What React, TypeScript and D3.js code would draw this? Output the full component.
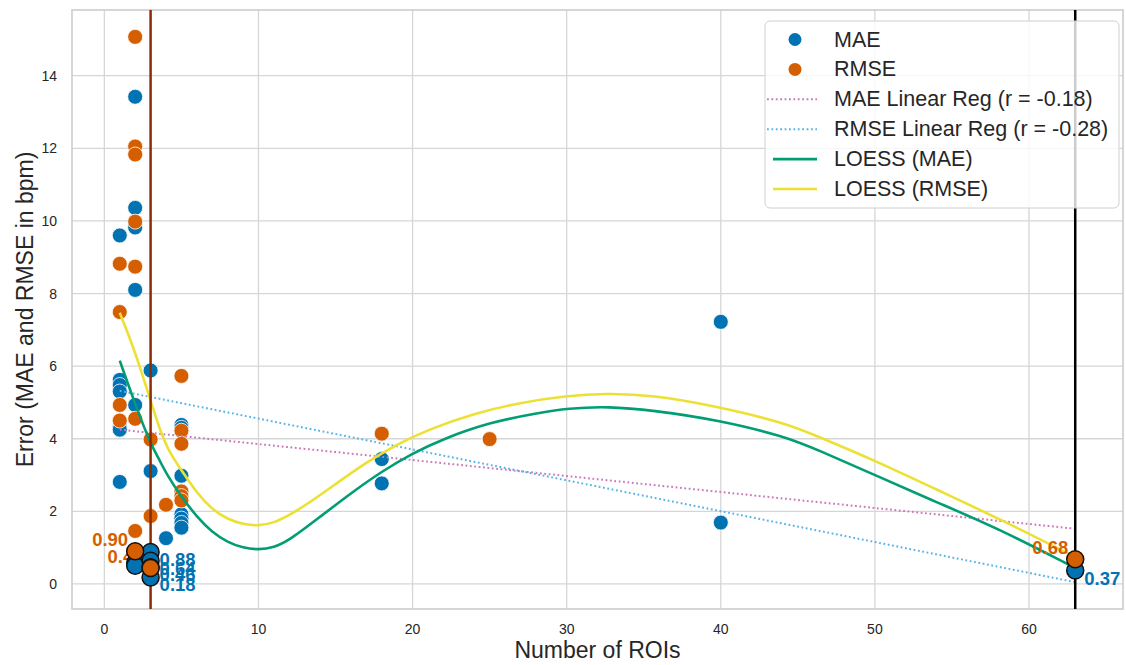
import React from "react";
import * as d3 from "d3";

// scatter values
const maeX = [1, 1, 1, 1, 1, 1, 1, 2, 2, 2, 2, 2, 3, 3, 4, 5, 5, 5, 5, 5, 5, 5, 18, 18, 40, 40];
const maeY = [9.6, 5.62, 5.48, 5.3, 4.32, 4.25, 2.81, 13.42, 10.36, 9.82, 8.1, 4.93, 5.88, 3.11, 1.26, 4.38, 4.3, 2.98, 1.92, 1.8, 1.68, 1.55, 3.44, 2.77, 7.22, 1.69];

const rmseX = [1, 1, 1, 1, 2, 2, 2, 2, 2, 2, 2, 3, 3, 4, 5, 5, 5, 5, 5, 5, 18, 25];
const rmseY = [8.82, 7.49, 4.93, 4.5, 15.07, 12.05, 11.83, 9.98, 8.74, 4.55, 1.46, 3.98, 1.87, 2.18, 5.73, 4.22, 3.86, 2.55, 2.42, 2.3, 4.14, 3.99];

// highlighted (best) points
const maeBestX = [2, 2, 3, 3, 3, 3, 63];
const maeBestY = [0.58, 0.5, 0.88, 0.64, 0.46, 0.18, 0.37];
const maeBestLabel = ["", "", "0.88", "0.64", "0.46", "0.18", "0.37"];
const rmseBestX = [2, 3, 63];
const rmseBestY = [0.9, 0.44, 0.68];
const rmseBestLabel = ["0.90", "0.44", "0.68"];

// linear regression end points
const regX = [1, 63];
const maeRegY = [4.25, 1.52];
const rmseRegY = [5.32, 0.05];

// LOESS curves
const loessMaeX = [1, 2, 3, 3.6, 4, 5, 6, 7, 8, 9, 10, 11, 12, 14, 16, 18, 20, 22, 25, 28, 30.1, 32.7, 35.5, 39.8, 44.2, 46.3, 50, 54, 58, 63];
const loessMaeY = [6.15, 4.95, 3.85, 3.4, 3.05, 2.4, 1.85, 1.42, 1.15, 0.99, 0.94, 1.0, 1.2, 1.85, 2.5, 3.1, 3.6, 4.0, 4.45, 4.7, 4.84, 4.89, 4.79, 4.52, 4.06, 3.69, 3.0, 2.25, 1.53, 0.44];
const loessRmseX = [1, 2, 3, 3.6, 4.24, 5, 6, 7, 8, 9, 10, 11, 12, 13, 15, 17, 19, 21, 24, 27, 30, 32.5, 35.5, 39.8, 44.2, 46.3, 50, 54, 58, 63];
const loessRmseY = [7.47, 6.4, 5.05, 4.24, 3.6, 3.14, 2.5, 2.05, 1.78, 1.64, 1.6, 1.68, 1.9, 2.15, 2.75, 3.35, 3.85, 4.25, 4.7, 5.0, 5.18, 5.25, 5.21, 4.89, 4.43, 4.06, 3.4, 2.6, 1.81, 0.74];

const xTicks = [0, 10, 20, 30, 40, 50, 60];
const yTicks = [0, 2, 4, 6, 8, 10, 12, 14];

const BLUE = "#0173b2";
const ORANGE = "#d55e00";
const GREEN = "#029e73";
const YELLOW = "#ece133";
const PINK = "#cc78bc";
const SKY = "#56b4e9";
const FONT = "'Liberation Sans', Arial, sans-serif";

const App = () => {
  const width = 1126;
  const height = 665;
  const left = 72, right = 1123, top = 10, bottom = 609;

  const x = d3.scaleLinear().domain([-2.1, 66.1]).range([left, right]);
  const y = d3.scaleLinear().domain([-0.69, 15.81]).range([bottom, top]);

  const line = d3
    .line<[number, number]>()
    .x(d => x(d[0]))
    .y(d => y(d[1]));
  const smooth = d3
    .line<[number, number]>()
    .x(d => x(d[0]))
    .y(d => y(d[1]))
    .curve(d3.curveBasis);

  const zip = (a: number[], b: number[]) => a.map((v, i) => [v, b[i]] as [number, number]);

  const legendItems = [
    { label: "MAE", kind: "dot", color: BLUE },
    { label: "RMSE", kind: "dot", color: ORANGE },
    { label: "MAE Linear Reg (r = -0.18)", kind: "dotted", color: PINK },
    { label: "RMSE Linear Reg (r = -0.28)", kind: "dotted", color: SKY },
    { label: "LOESS (MAE)", kind: "line", color: GREEN },
    { label: "LOESS (RMSE)", kind: "line", color: YELLOW }
  ];

  return (
    <svg
      width={width}
      height={height}
      style={{ position: "absolute", left: 0, top: 0, background: "#fff" }}
      fontFamily={FONT}
    >
      {/* grid */}
      {xTicks.map(t => (
        <line key={"gx" + t} x1={x(t)} x2={x(t)} y1={top} y2={bottom} stroke="#d6d6d6" strokeWidth={1.3} />
      ))}
      {yTicks.map(t => (
        <line key={"gy" + t} x1={left} x2={right} y1={y(t)} y2={y(t)} stroke="#d6d6d6" strokeWidth={1.3} />
      ))}
      <rect x={left} y={top} width={right - left} height={bottom - top} fill="none" stroke="#cccccc" strokeWidth={1.6} />

      {/* tick labels */}
      {xTicks.map(t => (
        <text key={"tx" + t} x={x(t)} y={629} textAnchor="middle" dominantBaseline="central" fontSize={14} fill="#262626">
          {t}
        </text>
      ))}
      {yTicks.map(t => (
        <text key={"ty" + t} x={57} y={y(t)} textAnchor="end" dominantBaseline="central" fontSize={14} fill="#262626">
          {t}
        </text>
      ))}

      {/* axis titles */}
      <text x={(left + right) / 2} y={650} textAnchor="middle" dominantBaseline="central" fontSize={23} fill="#262626">
        Number of ROIs
      </text>
      <text
        transform={`translate(25,${(top + bottom) / 2}) rotate(-90)`}
        textAnchor="middle"
        dominantBaseline="central"
        fontSize={23}
        fill="#262626"
      >
        Error (MAE and RMSE in bpm)
      </text>

      {/* scatter */}
      {maeX.map((v, i) => (
        <circle key={"m" + i} cx={x(v)} cy={y(maeY[i])} r={7.5} fill={BLUE} stroke="#fff" strokeWidth={0.8} />
      ))}
      {rmseX.map((v, i) => (
        <circle key={"r" + i} cx={x(v)} cy={y(rmseY[i])} r={7.5} fill={ORANGE} stroke="#fff" strokeWidth={0.8} />
      ))}

      {/* regression lines */}
      <path d={line(zip(regX, maeRegY)) || ""} fill="none" stroke={PINK} strokeWidth={2} strokeDasharray="1.8 2.6" />
      <path d={line(zip(regX, rmseRegY)) || ""} fill="none" stroke={SKY} strokeWidth={2} strokeDasharray="1.8 2.6" />

      {/* LOESS */}
      <path d={smooth(zip(loessMaeX, loessMaeY)) || ""} fill="none" stroke={GREEN} strokeWidth={2.6} />
      <path d={smooth(zip(loessRmseX, loessRmseY)) || ""} fill="none" stroke={YELLOW} strokeWidth={2.6} />

      {/* vertical markers */}
      <line x1={x(3)} x2={x(3)} y1={top} y2={bottom} stroke="#8b2c02" strokeWidth={2.5} />
      <line x1={x(63)} x2={x(63)} y1={top} y2={bottom} stroke="#000" strokeWidth={2.5} />

      {/* annotations */}
      {maeBestX.map((v, i) =>
        maeBestLabel[i] ? (
          <text key={"ml" + i} x={x(v) + 9} y={y(maeBestY[i]) + 14} fontSize={18.5} fontWeight="bold" fill={BLUE}>
            {maeBestLabel[i]}
          </text>
        ) : null
      )}
      {rmseBestX.map((v, i) => (
        <text key={"rl" + i} x={x(v) - 7} y={y(rmseBestY[i]) - 5} textAnchor="end" fontSize={18.5} fontWeight="bold" fill={ORANGE}>
          {rmseBestLabel[i]}
        </text>
      ))}

      {/* highlighted points */}
      {maeBestX.map((v, i) => (
        <circle key={"mb" + i} cx={x(v)} cy={y(maeBestY[i])} r={8.5} fill={BLUE} stroke="#111" strokeWidth={1.5} />
      ))}
      {rmseBestX.map((v, i) => (
        <circle key={"rb" + i} cx={x(v)} cy={y(rmseBestY[i])} r={8.5} fill={ORANGE} stroke="#111" strokeWidth={1.5} />
      ))}

      {/* legend */}
      <g>
        <rect x={765} y={21} width={354} height={187} rx={5} fill="#fff" fillOpacity={0.8} stroke="#d0d0d0" strokeWidth={1} />
        {legendItems.map((d, i) => {
          const cy = 39.5 + i * 29.9;
          return (
            <g key={d.label}>
              {d.kind === "dot" ? (
                <circle cx={795} cy={cy} r={6.5} fill={d.color} />
              ) : (
                <line
                  x1={d.kind === "line" ? 773 : 767}
                  x2={817}
                  y1={cy}
                  y2={cy}
                  stroke={d.color}
                  strokeWidth={d.kind === "line" ? 2.6 : 2}
                  strokeDasharray={d.kind === "dotted" ? "1.8 2.6" : undefined}
                />
              )}
              <text x={834} y={cy} dominantBaseline="central" fontSize={21.5} fill="#262626">
                {d.label}
              </text>
            </g>
          );
        })}
      </g>
    </svg>
  );
};

export default App;
